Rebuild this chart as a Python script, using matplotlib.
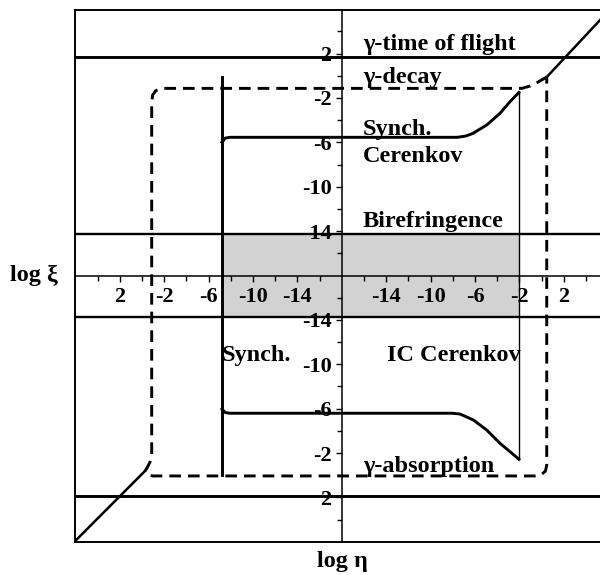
"""Lorentz-violation constraint plane: log xi versus log eta (folded log axes)."""

import matplotlib
matplotlib.use("Agg")
import matplotlib.pyplot as plt
import numpy as np
from matplotlib.ticker import FixedLocator, NullFormatter

plt.rcParams["font.family"] = ["Liberation Serif", "DejaVu Serif"]
plt.rcParams["font.weight"] = "bold"

#: log value that sits on the crossing of the two inner axes
CENTER = -18.0

# tick values (same on both halves of each axis)
TICK_MAJOR = [2, -2, -6, -10, -14]
TICK_MINOR = [4, 0, -4, -8, -12, -16]

# gamma time of flight: log xi for xi > 0 and xi < 0
TOF_SIGN = [1, -1]
TOF_LOG_XI = [1.7, 1.85]

# vacuum birefringence bound on |xi|
BIREF_LOG_XI = -14.3

# allowed (grey) region edges in eta
GREY_ETA_SIGN = [-1, 1]
GREY_LOG_ETA = [-7.2, -2.04]

# synchrotron bound (vertical line at eta < 0)
SYNCH_ETA_SIGN = -1
SYNCH_LOG_ETA = -7.2
SYNCH_XI_SIGN = [1, -1]
SYNCH_LOG_XI = [-0.1, 0.0]

# IC / vacuum Cerenkov curve, xi > 0 branch
CER_UP_ETA_SIGN = [-1, -1, -1, 1, 1, 1, 1, 1, 1, 1]
CER_UP_LOG_ETA = [-7.2, -7.5, -7.93, -7.6, -6.81, -6.18, -4.95, -3.75, -2.85, -2.04]
CER_UP_LOG_XI = [-6.0, -5.62, -5.55, -5.55, -5.43, -5.19, -4.44, -3.39, -2.34, -1.5]

# IC / vacuum Cerenkov curve, xi < 0 branch
CER_LO_ETA_SIGN = [-1, -1, -1, 1, 1, 1, 1, 1, 1, 1]
CER_LO_LOG_ETA = [-7.2, -7.5, -7.93, -8.07, -7.35, -6.15, -4.95, -3.75, -2.85, -2.04]
CER_LO_LOG_XI = [-5.97, -5.65, -5.59, -5.59, -5.52, -4.98, -4.08, -2.88, -2.13, -1.44]

# photon decay / absorption boundary (closed dashed loop)
GAM_ETA_SIGN = [1, 1, 1, 1, -1, -1, -1, -1, -1, -1, -1, -1, -1, 1, 1, 1, 1, 1]
GAM_LOG_ETA = [0.46, -0.32, -1.05, -1.77, -1.89, -1.26, -0.95, -0.87, -0.87,
               -0.72, -0.45, -0.27, -0.9, -0.59, -0.05, 0.35, 0.46, 0.46]
GAM_XI_SIGN = [1, 1, 1, 1, 1, 1, 1, 1, -1, -1, -1, -1, -1, -1, -1, -1, -1, 1]
GAM_LOG_XI = [-0.12, -0.57, -0.93, -1.14, -1.14, -1.33, -1.74, -2.46, -1.83,
              -1.2, -0.66, -0.39, 0.06, 0.06, -0.03, -0.39, -0.93, -0.12]

# xi = eta diagonal beyond the dashed loop
DIAG_UP_LOG_ETA = [0.46, 6.0]
DIAG_UP_LOG_XI = [-0.12, 5.8]
DIAG_LO_LOG_ETA = [-0.27, 6.5]
DIAG_LO_LOG_XI = [-0.39, 6.4]


def fold(sign, logv):
    """Map a (sign, log|v|) pair onto the folded plot coordinate."""
    return np.asarray(sign) * (np.asarray(logv, dtype=float) - CENTER)


fig = plt.figure(figsize=(6.0, 5.75), dpi=100)
rect = [0.125, 0.0574, 0.875, 0.9252]
xlim = (-24.04, 23.26)
ylim = (-24.01, 23.92)

ax = fig.add_axes(rect)
ax.set_xlim(*xlim)
ax.set_ylim(*ylim)
ax.set_xticks([])
ax.set_yticks([])
ax.spines["right"].set_visible(False)
for s in ("left", "top", "bottom"):
    ax.spines[s].set_linewidth(1.4)

# grey allowed region
ax.fill_between(fold(GREY_ETA_SIGN, GREY_LOG_ETA),
                fold(-1, BIREF_LOG_XI), fold(1, BIREF_LOG_XI),
                color="#d2d2d2", lw=0, zorder=1)

# horizontal bounds
for sg, v in zip(TOF_SIGN, TOF_LOG_XI):
    ax.axhline(fold(sg, v), color="k", lw=2.1, zorder=3)
for sg in (1, -1):
    ax.axhline(fold(sg, BIREF_LOG_XI), color="k", lw=1.7, zorder=3)

# synchrotron vertical
ax.plot(fold([SYNCH_ETA_SIGN] * 2, [SYNCH_LOG_ETA] * 2),
        fold(SYNCH_XI_SIGN, SYNCH_LOG_XI), color="k", lw=2.1, zorder=3)

# Cerenkov curves
ax.plot(fold(CER_UP_ETA_SIGN, CER_UP_LOG_ETA), fold(1, CER_UP_LOG_XI),
        color="k", lw=2.1, zorder=3)
ax.plot(fold(CER_LO_ETA_SIGN, CER_LO_LOG_ETA), fold(-1, CER_LO_LOG_XI),
        color="k", lw=2.1, zorder=3)
ax.plot(fold([1, 1], [CER_UP_LOG_ETA[-1], CER_LO_LOG_ETA[-1]]),
        fold([1, -1], [CER_UP_LOG_XI[-1], CER_LO_LOG_XI[-1]]),
        color="k", lw=1.0, zorder=3)

# photon decay / absorption loop
ax.plot(fold(GAM_ETA_SIGN, GAM_LOG_ETA), fold(GAM_XI_SIGN, GAM_LOG_XI),
        color="k", lw=2.1, ls=(0, (4.0, 2.4)), zorder=3)

# diagonal
ax.plot(fold(1, DIAG_UP_LOG_ETA), fold(1, DIAG_UP_LOG_XI), color="k", lw=1.8, zorder=3)
ax.plot(fold(-1, DIAG_LO_LOG_ETA), fold(-1, DIAG_LO_LOG_XI), color="k", lw=1.8, zorder=3)

# inner axes carrying the ticks
ax2 = fig.add_axes(rect)
ax2.set_xlim(*xlim)
ax2.set_ylim(*ylim)
ax2.patch.set_visible(False)
for s in ("top", "right"):
    ax2.spines[s].set_visible(False)
for s in ("left", "bottom"):
    ax2.spines[s].set_position(("data", 0))
    ax2.spines[s].set_linewidth(1.1)

xt = list(fold(-1, TICK_MAJOR)) + list(fold(1, TICK_MAJOR))
xm = list(fold(-1, TICK_MINOR)) + list(fold(1, TICK_MINOR))
labels = [f"{v}" for v in TICK_MAJOR] * 2
ax2.xaxis.set_major_locator(FixedLocator(xt))
ax2.xaxis.set_minor_locator(FixedLocator(xm))
ax2.set_xticklabels(labels)
ax2.yaxis.set_major_locator(FixedLocator(xt))
ax2.yaxis.set_minor_locator(FixedLocator(xm))
ax2.set_yticklabels(labels)
ax2.xaxis.set_minor_formatter(NullFormatter())
ax2.yaxis.set_minor_formatter(NullFormatter())
ax2.tick_params(which="both", direction="out", width=1.0, labelsize=16)
ax2.tick_params(which="major", length=4.5)
ax2.tick_params(which="minor", length=3.5)
ax2.tick_params(axis="x", pad=4)
ax2.tick_params(axis="y", pad=3)

# annotations
tk = dict(fontsize=17.5, fontweight="bold", ha="left", va="baseline", zorder=5)
ax.text(1.9, 20.3, "γ-time of flight", **tk)
ax.text(1.9, 17.3, "γ-decay", **tk)
ax.text(1.9, 12.66, "Synch.", **tk)
ax.text(1.9, 10.2, "Cerenkov", **tk)
ax.text(1.9, 4.4, "Birefringence", **tk)
ax.text(-10.8, -7.7, "Synch.", **tk)
ax.text(4.1, -7.7, "IC Cerenkov", **tk)
ax.text(1.9, -17.7, "γ-absorption", **tk)

fig.text(10 / 600, 1 - 275 / 575, "log ξ", fontsize=17.5, fontweight="bold",
         ha="left", va="center")
fig.text(342 / 600, 1 - 562 / 575, "log η", fontsize=17.5, fontweight="bold",
         ha="center", va="center")

fig.savefig("out.png", dpi=100)
